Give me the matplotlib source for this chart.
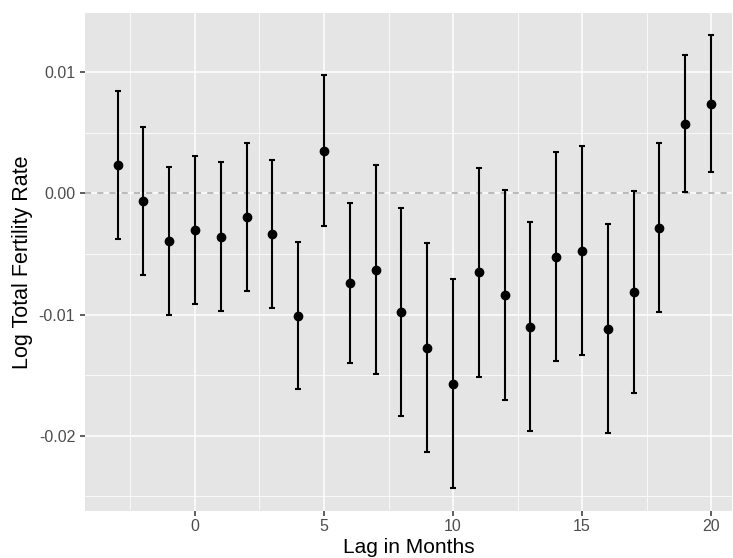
import numpy as np
import matplotlib.pyplot as plt

# event-study estimates
lag = [-3, -2, -1, 0, 1, 2, 3, 4, 5, 6, 7, 8, 9, 10, 11, 12, 13, 14, 15, 16, 17, 18, 19, 20]
est = [0.00231, -0.00064, -0.00397, -0.00304, -0.00359, -0.00199, -0.00339, -0.0101,
       0.00346, -0.00743, -0.00631, -0.00977, -0.01274, -0.01571, -0.00653, -0.0084,
       -0.01101, -0.00524, -0.00477, -0.01118, -0.00815, -0.00285, 0.00571, 0.00736]
upper = [0.0084, 0.00549, 0.00214, 0.0031, 0.00255, 0.00412, 0.00271, -0.0040,
         0.00972, -0.00081, 0.0023, -0.00122, -0.00411, -0.00705, 0.0021, 0.00024,
         -0.00235, 0.00342, 0.00389, -0.00252, 0.00021, 0.00414, 0.01137, 0.01305]
lower = [-0.00378, -0.00677, -0.01005, -0.00914, -0.00972, -0.00807, -0.0095, -0.01618,
         -0.0027, -0.01403, -0.01489, -0.01835, -0.02137, -0.02432, -0.01516, -0.01703,
         -0.01964, -0.01387, -0.01337, -0.01978, -0.01646, -0.0098, 0.00007, 0.00175]

lag = np.array(lag)
est = np.array(est)
yerr = [est - np.array(lower), np.array(upper) - est]

plt.rcParams['font.family'] = ['Liberation Sans', 'DejaVu Sans']

fig = plt.figure(figsize=(7.33, 5.58), dpi=100)
ax = fig.add_axes([0.116, 0.0842, 0.8826, 0.8925])
ax.set_facecolor('#E5E5E5')
for s in ax.spines.values():
    s.set_visible(False)

ax.set_xlim(-4.26, 20.81)
ax.set_ylim(-0.02621, 0.01487)
ax.set_xticks([0, 5, 10, 15, 20])
ax.set_xticks([-2.5, 2.5, 7.5, 12.5, 17.5], minor=True)
ax.set_yticks([-0.02, -0.01, 0.0, 0.01])
ax.set_yticks([-0.025, -0.015, -0.005, 0.005], minor=True)
ax.set_yticklabels(['-0.02', '-0.01', '0.00', '0.01'])
ax.grid(which='major', color='white', linewidth=1.1)
ax.grid(which='minor', color='white', linewidth=0.55)
ax.set_axisbelow(True)
ax.tick_params(which='major', length=3.6, width=1.1, color='#333333',
               labelsize=11.5, labelcolor='#4D4D4D', pad=3.5)
ax.tick_params(axis='x', pad=2)
ax.tick_params(which='minor', length=0)

ax.axhline(0, color='#A8A8A8', linestyle=(0, (4, 4)), linewidth=1.1, zorder=1)
ax.errorbar(lag, est, yerr=yerr, fmt='o', color='black', ms=6, elinewidth=1.5,
            capsize=2.2, capthick=1.5, zorder=3)

ax.set_xlabel('Lag in Months', fontsize=15, labelpad=3)
ax.set_ylabel('Log Total Fertility Rate', fontsize=15.5, labelpad=4)

fig.savefig('out.png', dpi=100)
